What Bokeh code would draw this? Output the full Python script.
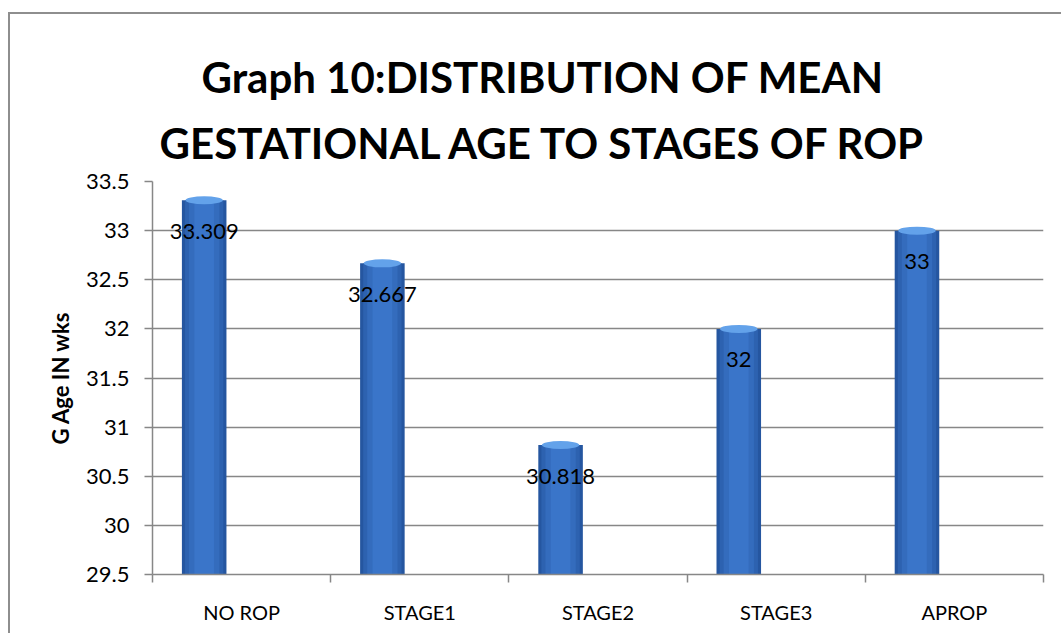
from bokeh.plotting import figure
from bokeh.models import Range1d, FixedTicker, Title, ColumnDataSource
from bokeh.transform import dodge
from bokeh.core.properties import value
from bokeh.embed import file_html
from bokeh.resources import INLINE

# Mean gestational age (weeks) by ROP stage
stages = ["NO ROP", "STAGE1", "STAGE2", "STAGE3", "APROP"]
mean_ga = [33.309, 32.667, 30.818, 32.0, 33.0]
value_labels = ["33.309", "32.667", "30.818", "32", "33"]

y_ticks = [29.5, 30, 30.5, 31, 31.5, 32, 32.5, 33, 33.5]
y_tick_labels = ["29.5", "30", "30.5", "31", "31.5", "32", "32.5", "33", "33.5"]
y_title = "G Age IN wks"

title_lines = ["Graph 10:DISTRIBUTION  OF MEAN", "GESTATIONAL AGE  TO STAGES OF ROP"]

# each category occupies one unit slot; the single series sits left of centre
slot_centres = [i + 0.5 for i in range(len(stages))]
slot_edges = [float(i) for i in range(len(stages) + 1)]
SERIES_SHIFT = -0.21

src = ColumnDataSource(dict(x=slot_centres, ga=mean_ga, lab=value_labels))
bar_x = dodge("x", SERIES_SHIFT)

GRID = "#878787"
FONT = "Lato"

p = figure(
    width=1053, height=621,
    x_range=Range1d(0, len(stages)),
    y_range=Range1d(29.5, 33.5),
    output_backend="svg", toolbar_location=None,
    min_border_left=142, min_border_right=20,
    min_border_top=167, min_border_bottom=61,
    margin=(12, 0, 0, 8),
    styles={"border-top": "2px solid #8e8e8e", "border-left": "2px solid #8e8e8e"},
)
p.outline_line_color = None
p.background_fill_color = "white"
p.border_fill_color = "white"

# two-line title centred over the whole chart box; lower line added first
p.add_layout(Title(text=title_lines[1], align="left", offset=7, text_font=FONT,
                   text_font_size="42px", text_font_style="bold",
                   text_color="black", standoff=28), "above")
p.add_layout(Title(text=title_lines[0], align="left", offset=49, text_font=FONT,
                   text_font_size="42px", text_font_style="bold",
                   text_color="black", standoff=0), "above")

# y axis
ya = p.yaxis[0]
ya.ticker = FixedTicker(ticks=y_ticks)
ya.major_label_overrides = {t: s for t, s in zip(y_ticks, y_tick_labels)}
ya.major_label_text_font = FONT
ya.major_label_text_font_size = "22px"
ya.major_label_text_color = "black"
ya.major_tick_out = 8
ya.major_tick_in = 0
ya.minor_tick_line_color = None
ya.major_tick_line_color = GRID
ya.major_tick_line_width = 1.5
ya.axis_line_color = GRID
ya.axis_line_width = 1.5
ya.major_label_standoff = 15

# vertical axis title
p.add_layout(Title(text=y_title, align="center", text_font=FONT,
                   text_font_size="22px", text_font_style="bold",
                   text_color="black", standoff=20), "left")

p.ygrid.ticker = FixedTicker(ticks=y_ticks)
p.ygrid.grid_line_color = GRID
p.ygrid.grid_line_width = 1.5
p.xgrid.grid_line_color = None

# x axis: category names at slot centres, tick marks at slot edges
xa = p.xaxis[0]
xa.ticker = FixedTicker(ticks=slot_centres, minor_ticks=slot_edges)
xa.major_label_overrides = {c: s for c, s in zip(slot_centres, stages)}
xa.major_tick_line_color = None
xa.major_tick_out = 0
xa.major_tick_in = 0
xa.minor_tick_out = 8
xa.minor_tick_in = 0
xa.minor_tick_line_color = GRID
xa.minor_tick_line_width = 1.5
xa.axis_line_color = GRID
xa.axis_line_width = 1.5
xa.major_label_text_font = FONT
xa.major_label_text_font_size = "20px"
xa.major_label_text_color = "black"
xa.major_label_standoff = 17

# shaded cylinder-like columns built from nested bars
shades = [(0.25, "#2556a0"), (0.215, "#2d62b0"), (0.17, "#346cbd"), (0.11, "#3a75c9")]
for w, c in shades:
    p.vbar(x=bar_x, top="ga", bottom=29.5, width=w, source=src,
           fill_color=c, line_color=None)
p.ellipse(x=bar_x, y="ga", width=0.21, height=8, height_units="screen", source=src,
          fill_color="#63a2ea", line_color=None)

p.text(x=bar_x, y="ga", text="lab", y_offset=31, source=src,
       text_align="center", text_baseline="middle",
       text_font=value(FONT), text_font_size="22px", text_color="black")

open("out.html", "w").write(file_html(p, INLINE))
